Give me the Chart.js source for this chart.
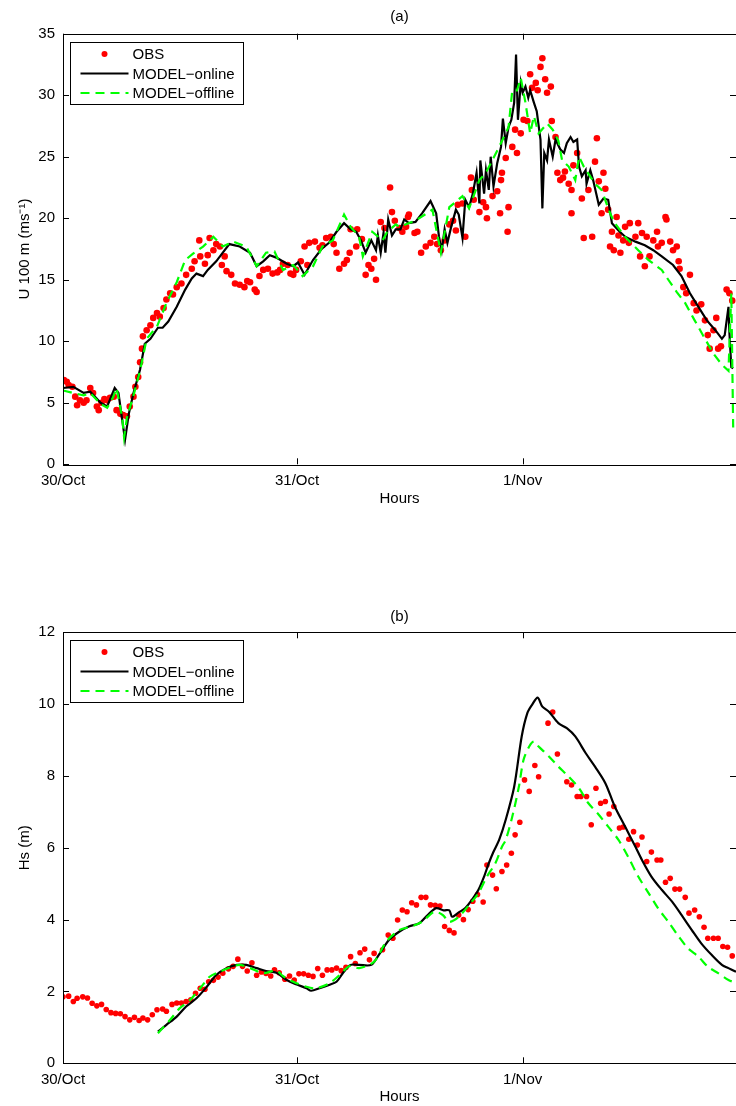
<!DOCTYPE html>
<html>
<head>
<meta charset="utf-8">
<script src="https://cdn.jsdelivr.net/npm/chart.js@4.4.1/dist/chart.umd.min.js"></script>
<style>
  html, body { margin: 0; padding: 0; background: #fff; overflow: hidden; }
  canvas { display: block; }
</style>
</head>
<body>
<canvas id="windChart" width="740" height="520"></canvas>
<canvas id="waveChart" width="740" height="586"></canvas>
<script>
// eixo x em horas desde 30/Oct
const dayTickHours = [0, 24.9, 48.9];
const dayTickLabels = ["30/Oct", "31/Oct", "1/Nov"];
const legendLabels = ["OBS", "MODEL\u2212online", "MODEL\u2212offline"];

// (a) vento a 100 m
const obsAHours = [0.1,0.4,0.6,1.0,1.3,1.5,1.8,2.2,2.5,2.9,3.2,3.6,3.8,4.1,4.4,4.7,5.0,5.4,5.7,6.1,6.4,6.8,7.1,7.5,7.7,8.0,8.2,8.4,8.5,8.9,9.3,9.6,10.0,10.3,10.7,11.0,11.4,11.7,12.1,12.6,13.1,13.7,14.0,14.5,14.6,15.1,15.4,15.6,16.0,16.3,16.7,16.9,17.2,17.4,17.9,18.3,18.8,19.3,19.6,19.9,20.4,20.6,20.9,21.3,21.8,22.3,22.8,23.1,23.4,23.9,24.2,24.5,24.8,25.3,25.7,26.0,26.2,26.8,27.3,27.6,28.0,28.5,28.8,29.1,29.4,29.9,30.2,30.5,30.6,31.2,31.3,31.8,32.2,32.5,32.8,33.1,33.3,33.8,34.2,34.8,35.0,35.3,35.8,36.1,36.5,36.7,36.8,37.4,37.7,38.1,38.6,39.1,39.5,39.8,40.2,40.6,41.1,41.5,41.8,42.0,42.5,42.8,43.4,43.5,43.7,44.3,44.7,45.0,45.1,45.7,46.2,46.5,46.6,46.7,47.1,47.3,47.4,47.8,48.1,48.3,48.7,49.0,49.4,49.7,49.9,50.3,50.5,50.8,51.0,51.3,51.5,51.9,52.0,52.4,52.6,52.9,53.2,53.4,53.8,54.1,54.1,54.3,54.7,55.2,55.4,55.9,56.3,56.6,56.8,57.0,57.3,57.5,57.7,58.0,58.2,58.4,58.6,58.9,59.1,59.3,59.6,59.8,60.2,60.3,60.9,61.2,61.4,61.6,61.9,62.1,62.4,62.8,63.2,63.3,63.7,64.1,64.2,64.6,64.9,65.3,65.5,65.6,66.0,66.3,66.7,67.1,67.4,67.9,68.3,68.6,68.8,69.2,69.5,69.7,70.0,70.6,70.9,71.2];
const obsAValues = [6.85,6.7,6.45,6.3,5.5,4.8,5.2,5.0,5.2,6.2,5.8,4.7,4.4,5.0,5.3,5.2,5.4,5.5,4.4,4.1,4.0,3.9,4.7,5.5,6.3,7.1,8.3,9.4,10.4,10.9,11.3,11.9,12.3,12.0,12.7,13.4,13.9,13.8,14.4,14.7,15.4,15.9,16.5,18.2,16.9,16.3,17.0,18.4,17.4,17.9,17.7,16.2,16.9,15.7,15.4,14.7,14.6,14.4,14.9,14.8,14.2,14.0,15.3,15.8,15.9,15.5,15.6,15.8,16.3,16.2,15.5,15.4,15.8,16.5,17.7,16.2,18.0,18.1,17.6,17.8,18.4,18.5,17.9,17.2,15.9,16.3,16.6,17.2,19.1,17.7,19.1,18.3,15.4,16.2,15.9,16.7,15.0,19.7,19.2,22.5,20.5,19.8,19.2,18.9,19.3,20.1,20.3,18.8,18.9,17.2,17.7,18.0,18.5,17.9,17.4,18.2,19.5,19.8,19.0,21.1,21.2,18.5,23.3,22.3,21.5,20.5,21.3,20.9,20.0,21.8,22.2,20.4,23.1,23.7,24.9,18.9,20.9,25.8,27.2,25.3,26.9,28.0,27.9,31.7,30.6,31.0,30.4,32.3,33.0,31.3,30.2,30.7,27.9,26.6,23.7,23.1,23.3,23.8,22.8,22.3,20.4,24.3,25.3,21.6,18.4,22.3,18.5,24.6,26.5,23.0,20.4,23.7,22.4,20.7,17.7,18.9,17.4,20.1,18.6,17.2,18.2,19.3,18.0,19.6,18.5,19.6,16.9,18.8,16.1,18.5,16.9,18.2,18.9,17.7,18.0,20.1,19.9,18.1,17.4,17.7,16.5,15.9,14.4,13.9,15.4,13.1,12.5,13.0,11.7,10.5,9.4,10.9,11.9,9.4,9.6,14.2,13.9,13.3];
const onlineAHours = [0.0,1.1,2.2,2.9,4.0,4.7,5.5,5.9,6.3,6.6,7.0,7.5,8.2,8.7,9.3,10.1,10.6,11.2,12.1,13.0,13.7,14.2,14.9,15.4,16.3,17.0,17.7,18.8,19.9,20.6,21.3,22.0,22.7,23.8,24.5,25.0,25.7,26.6,27.5,28.3,29.1,29.9,30.6,31.2,31.7,32.2,32.8,33.3,33.5,33.8,34.1,34.3,34.6,35.0,35.4,35.9,36.3,36.8,37.5,38.2,39.1,39.7,40.0,40.3,40.6,40.9,41.3,41.8,42.1,42.5,42.8,43.2,43.6,44.0,44.3,44.4,44.8,45.0,45.3,45.5,45.8,46.2,46.6,46.8,47.1,47.4,47.7,48.0,48.2,48.4,48.7,48.9,49.2,49.5,49.7,50.1,50.4,50.8,51.0,51.2,51.5,51.7,52.1,52.4,52.9,53.3,53.6,54.0,54.3,54.7,54.9,55.2,55.6,55.7,56.1,56.4,57.0,57.5,58.0,58.4,59.1,59.8,60.9,61.9,62.8,63.7,64.9,65.8,66.7,67.6,68.5,69.4,70.1,70.4,70.8,70.9,71.1,71.3];
const onlineAValues = [6.2,6.3,5.8,5.9,5.0,4.7,6.2,5.8,3.6,2.0,4.1,5.8,7.7,9.8,10.2,11.1,11.1,11.6,12.8,14.2,15.1,15.5,15.3,15.8,16.5,17.2,17.9,17.7,17.2,16.1,16.5,17.0,16.8,16.3,16.1,16.4,15.4,16.6,17.5,18.0,18.9,19.6,19.1,18.9,18.2,17.2,18.2,17.4,18.6,17.2,18.8,17.2,19.9,18.6,19.1,19.1,19.9,19.6,19.7,20.4,21.4,20.4,18.5,17.4,19.1,18.0,19.3,20.7,20.3,18.4,21.5,20.9,22.0,23.7,21.2,24.7,22.0,23.9,22.3,25.0,22.6,24.5,25.8,28.1,26.1,27.4,28.0,29.4,33.3,28.0,31.0,30.2,30.7,29.8,30.4,29.4,28.7,26.4,20.8,25.3,24.7,26.4,25.0,26.4,25.6,25.3,26.1,26.6,26.2,26.4,24.2,23.4,23.9,22.8,23.9,23.1,21.1,21.6,21.5,19.6,19.0,18.5,18.1,17.8,17.4,16.9,16.2,15.3,13.9,12.8,11.7,10.9,10.2,10.5,12.8,10.7,7.9,7.8];
const offlineAHours = [0.0,1.1,2.2,2.9,4.0,4.7,5.3,5.7,6.3,6.5,6.8,7.5,8.2,8.9,10.0,11.0,12.1,13.0,13.8,14.9,16.0,17.0,18.1,19.5,20.6,21.6,22.5,23.4,24.5,25.5,26.6,27.6,28.7,29.9,30.6,31.5,31.9,32.9,34.0,34.5,35.4,35.8,37.5,39.3,40.2,41.1,42.5,43.2,44.3,45.0,46.4,47.4,47.8,48.3,48.7,49.2,49.7,50.1,50.6,51.5,52.1,52.7,53.1,53.8,54.5,54.9,55.4,56.6,57.3,58.2,58.7,59.8,61.2,62.3,63.7,64.4,65.3,66.2,67.2,68.3,69.2,70.1,70.8,71.1,71.3];
const offlineAValues = [6.0,5.8,5.6,5.8,4.9,4.6,5.4,6.2,3.8,2.2,3.8,5.6,7.6,10.2,11.2,13.1,14.8,16.6,17.1,17.7,18.5,17.7,18.1,17.7,16.1,17.2,17.3,15.8,16.2,15.3,16.1,17.7,18.2,20.3,19.3,18.5,16.9,18.9,18.2,18.9,19.5,19.3,19.8,20.7,17.2,20.9,21.8,20.8,23.1,23.7,25.8,27.4,30.4,30.4,31.4,29.4,26.9,28.3,26.9,27.7,27.2,26.3,24.7,24.2,23.1,25.0,24.2,22.8,22.3,20.4,19.6,18.5,17.4,16.6,15.8,15.0,14.0,13.1,11.7,10.2,9.0,8.1,7.6,13.9,3.0];

// (b) altura significativa
const obsBHours = [0.0,0.6,1.1,1.5,2.1,2.6,3.1,3.6,4.1,4.6,5.1,5.6,6.1,6.6,7.1,7.6,8.1,8.5,9.0,9.5,10.0,10.6,11.0,11.6,12.1,12.6,13.1,13.6,14.1,14.6,15.1,15.5,16.0,16.5,17.0,17.6,18.1,18.6,19.1,19.6,20.1,20.6,21.1,21.6,22.1,22.5,23.0,23.6,24.1,24.6,25.1,25.6,26.1,26.6,27.1,27.6,28.1,28.6,29.1,29.6,30.1,30.6,31.1,31.6,32.1,32.6,33.1,34.0,34.6,35.1,35.6,36.1,36.6,37.1,37.6,38.1,38.6,39.1,39.6,40.1,40.6,41.1,41.6,42.1,42.6,43.1,43.6,44.1,44.7,45.1,45.7,46.1,46.7,47.2,47.7,48.1,48.6,49.1,49.6,50.2,50.6,51.6,52.1,52.6,53.6,54.1,54.7,55.1,55.7,56.2,56.7,57.2,57.7,58.1,58.6,59.2,59.6,60.2,60.7,61.1,61.6,62.1,62.6,63.2,63.6,64.1,64.6,65.1,65.6,66.2,66.6,67.2,67.7,68.2,68.6,69.2,69.7,70.2,70.7,71.2];
const obsBValues = [1.85,1.87,1.72,1.81,1.85,1.82,1.67,1.60,1.64,1.50,1.41,1.39,1.38,1.30,1.21,1.28,1.19,1.26,1.21,1.35,1.49,1.51,1.45,1.64,1.68,1.68,1.72,1.77,1.95,2.09,2.06,2.27,2.31,2.40,2.51,2.63,2.70,2.90,2.70,2.57,2.80,2.45,2.54,2.50,2.43,2.60,2.52,2.34,2.43,2.32,2.49,2.49,2.45,2.42,2.64,2.45,2.60,2.60,2.65,2.58,2.67,2.97,2.78,3.08,3.18,2.88,3.06,3.16,3.57,3.48,3.99,4.27,4.22,4.47,4.41,4.62,4.62,4.41,4.40,4.38,3.81,3.70,3.63,4.13,4.00,4.28,4.51,4.70,4.49,5.52,5.24,4.86,5.34,5.52,5.85,6.36,6.71,7.89,7.57,8.29,7.98,9.47,9.78,8.61,7.84,7.75,7.43,7.43,7.43,6.64,7.66,7.24,7.29,6.94,7.15,6.55,6.58,6.24,6.45,6.08,6.30,5.62,5.88,5.66,5.66,5.04,5.15,4.85,4.85,4.62,4.18,4.27,4.08,3.79,3.48,3.48,3.48,3.25,3.23,2.99];
const onlineBHours = [10.1,11.0,12.1,13.1,14.2,15.3,16.3,17.4,18.5,19.5,20.6,21.6,22.7,23.8,24.8,25.9,26.4,27.3,28.3,29.1,29.8,30.6,31.5,32.8,33.6,34.7,35.8,36.8,37.9,38.8,39.7,40.5,41.1,41.4,42.1,42.8,43.5,44.2,44.8,45.3,45.8,46.4,47.1,48.0,48.8,49.4,49.9,50.5,51.0,51.7,52.7,53.6,54.5,55.6,56.6,57.7,58.7,59.8,60.9,61.6,62.6,63.7,64.8,65.8,66.9,67.9,69.0,70.1,70.8,71.6];
const onlineBValues = [0.88,1.07,1.30,1.58,1.81,2.13,2.46,2.65,2.74,2.74,2.65,2.57,2.52,2.32,2.20,2.09,2.02,2.09,2.18,2.27,2.52,2.74,2.74,2.74,3.02,3.44,3.67,3.81,3.90,4.13,4.32,4.26,4.26,4.08,4.20,4.32,4.55,4.83,5.20,5.57,5.89,6.22,6.78,7.70,9.10,9.75,9.98,10.18,9.93,9.79,9.47,9.33,9.10,8.64,8.26,7.80,7.15,6.59,6.03,5.66,5.20,4.83,4.50,4.13,3.71,3.34,3.02,2.74,2.65,2.55];
const offlineBHours = [10.1,11.4,12.4,13.5,14.6,15.6,16.7,17.7,18.8,19.9,21.3,22.7,23.4,24.5,25.9,26.9,28.3,29.4,30.5,31.5,33.1,34.4,35.8,37.2,38.2,39.5,40.4,41.1,42.1,43.2,44.2,45.1,46.0,46.7,47.1,47.8,48.5,49.0,49.6,50.1,50.6,51.7,52.7,53.8,54.9,55.9,57.0,58.0,59.1,60.2,61.2,62.3,63.3,64.4,65.5,66.5,67.6,68.6,69.7,70.8,71.6];
const offlineBValues = [0.84,1.21,1.53,1.76,2.09,2.41,2.55,2.66,2.74,2.65,2.51,2.58,2.43,2.27,2.13,2.09,2.22,2.45,2.71,2.65,2.83,3.39,3.71,3.82,3.94,4.22,4.13,3.94,4.08,4.41,4.74,5.20,5.57,6.03,6.22,6.87,7.70,8.45,8.82,8.96,8.82,8.54,8.26,7.98,7.66,7.24,6.92,6.59,6.22,5.71,5.20,4.74,4.32,3.94,3.53,3.20,2.97,2.69,2.51,2.32,2.24];

const FONT = "'Liberation Sans', Arial, Helvetica, sans-serif";
const OBS_COLOR = "#ff0000";
const ONLINE_COLOR = "#000000";
const OFFLINE_COLOR = "#00ff00";

function toPoints(hours, values) {
  const n = Math.min(hours.length, values.length);
  const pts = [];
  for (let i = 0; i < n; i++) pts.push({ x: hours[i], y: values[i] });
  return pts;
}

// moldura, ticks internos e legenda no estilo matlab
const boxPlugin = {
  id: "box",
  afterDatasetsDraw(chart) {
    const { ctx, chartArea: a, scales } = chart;
    const x = scales.x, y = scales.y;
    ctx.save();
    ctx.strokeStyle = "#000";
    ctx.lineWidth = 1;
    ctx.strokeRect(Math.round(a.left) + 0.5, Math.round(a.top) + 0.5, Math.round(a.right - a.left), Math.round(a.bottom - a.top));
    ctx.beginPath();
    y.ticks.forEach(t => {
      const py = Math.round(y.getPixelForValue(t.value)) + 0.5;
      ctx.moveTo(a.left, py); ctx.lineTo(a.left + 6, py);
      ctx.moveTo(a.right - 6, py); ctx.lineTo(a.right, py);
    });
    x.ticks.forEach(t => {
      const px = Math.round(x.getPixelForValue(t.value)) + 0.5;
      ctx.moveTo(px, a.bottom); ctx.lineTo(px, a.bottom - 6);
      ctx.moveTo(px, a.top); ctx.lineTo(px, a.top + 6);
    });
    ctx.stroke();

    // legenda
    const lx = Math.round(a.left + 6.5) + 0.5, ly = Math.round(a.top + 8) + 0.5;
    const lw = 173, lh = 62;
    ctx.fillStyle = "#fff";
    ctx.fillRect(lx, ly, lw, lh);
    ctx.strokeRect(lx, ly, lw, lh);
    const rows = [ly + 11.5, ly + 31, ly + 50.5];
    const sx0 = lx + 10, sx1 = lx + 58, tx = lx + 64;
    ctx.fillStyle = OBS_COLOR;
    ctx.beginPath();
    ctx.arc((sx0 + sx1) / 2, rows[0], 3, 0, Math.PI * 2);
    ctx.fill();
    ctx.lineWidth = 2;
    ctx.strokeStyle = ONLINE_COLOR;
    ctx.beginPath(); ctx.moveTo(sx0, rows[1]); ctx.lineTo(sx1, rows[1]); ctx.stroke();
    ctx.strokeStyle = OFFLINE_COLOR;
    ctx.setLineDash([9, 6]);
    ctx.beginPath(); ctx.moveTo(sx0, rows[2]); ctx.lineTo(sx1, rows[2]); ctx.stroke();
    ctx.setLineDash([]);
    ctx.fillStyle = "#000";
    ctx.font = "15px " + FONT;
    ctx.textAlign = "left";
    ctx.textBaseline = "middle";
    legendLabels.forEach((lab, i) => ctx.fillText(lab, tx - 2, rows[i] + 1));
    ctx.restore();
  }
};

function buildChart(canvasId, cfg) {
  const ctx = document.getElementById(canvasId).getContext("2d");
  return new Chart(ctx, {
    type: "line",
    data: {
      datasets: [
        {
          label: legendLabels[0],
          data: toPoints(cfg.obsHours, cfg.obsValues),
          showLine: false,
          pointRadius: cfg.dot,
          pointBorderWidth: 0,
          pointBackgroundColor: OBS_COLOR,
          order: 3
        },
        {
          label: legendLabels[1],
          data: toPoints(cfg.onHours, cfg.onValues),
          borderColor: ONLINE_COLOR,
          borderWidth: 2.2,
          pointRadius: 0,
          tension: cfg.tension,
          order: 2
        },
        {
          label: legendLabels[2],
          data: toPoints(cfg.offHours, cfg.offValues),
          borderColor: OFFLINE_COLOR,
          borderWidth: 2.2,
          borderDash: [9, 6],
          pointRadius: 0,
          tension: cfg.tension,
          order: 1
        }
      ]
    },
    options: {
      responsive: false,
      animation: false,
      devicePixelRatio: 1,
      layout: { padding: { top: 0, right: 2, bottom: cfg.padBottom, left: 0 } },
      plugins: {
        legend: { display: false },
        tooltip: { enabled: false },
        title: {
          display: true,
          fullSize: false,
          text: cfg.title,
          color: "#000",
          font: { family: FONT, size: 15, weight: "normal", lineHeight: 1 },
          padding: { top: cfg.titleTop, bottom: cfg.titleBottom }
        }
      },
      scales: {
        x: {
          type: "linear",
          min: 0,
          max: 71.6,
          grid: { display: false, drawTicks: false },
          border: { display: false },
          afterFit: s => { s.height = 42; },
          afterBuildTicks: s => { s.ticks = dayTickHours.map(v => ({ value: v })); },
          ticks: {
            autoSkip: false,
            maxRotation: 0,
            padding: 8,
            color: "#000",
            font: { family: FONT, size: 15 },
            callback: (v, i) => dayTickLabels[i]
          },
          title: {
            display: true,
            text: "Hours",
            color: "#000",
            font: { family: FONT, size: 15, lineHeight: 1 },
            padding: { top: 0, bottom: cfg.hoursPad }
          }
        },
        y: {
          min: 0,
          max: cfg.yMax,
          grid: { display: false, drawTicks: false },
          border: { display: false },
          afterFit: s => { s.width = 63; },
          ticks: {
            stepSize: cfg.yStep,
            padding: 8,
            color: "#000",
            font: { family: FONT, size: 15 }
          },
          title: {
            display: true,
            text: cfg.yTitle,
            color: "#000",
            font: { family: FONT, size: 15, lineHeight: 1 },
            padding: { top: 17.5, bottom: 0 }
          }
        }
      }
    },
    plugins: [boxPlugin]
  });
}

buildChart("windChart", {
  title: "(a)", titleTop: 9.2, titleBottom: 9.5, padBottom: 13.7, hoursPad: 0.2,
  yMax: 35, yStep: 5, yTitle: "U 100 m (ms\u207B\u00B9)", dot: 3.3, tension: 0,
  obsHours: obsAHours, obsValues: obsAValues,
  onHours: onlineAHours, onValues: onlineAValues,
  offHours: offlineAHours, offValues: offlineAValues
});

buildChart("waveChart", {
  title: "(b)", titleTop: 89.2, titleBottom: 8.1, padBottom: 0.7, hoursPad: 0.8,
  yMax: 12, yStep: 2, yTitle: "Hs (m)", dot: 2.8, tension: 0.3,
  obsHours: obsBHours, obsValues: obsBValues,
  onHours: onlineBHours, onValues: onlineBValues,
  offHours: offlineBHours, offValues: offlineBValues
});
</script>
</body>
</html>
